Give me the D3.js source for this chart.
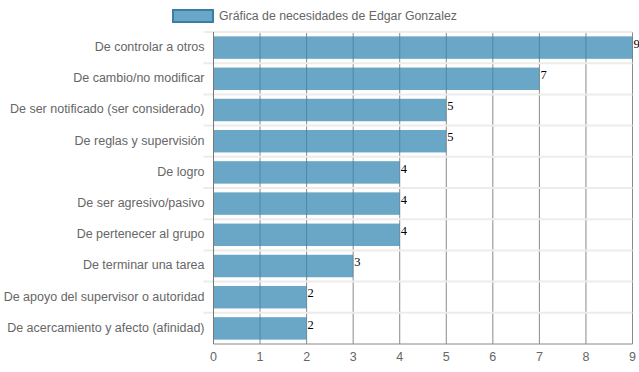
<!DOCTYPE html>
<html>
<head>
<meta charset="utf-8">
<script src="https://cdn.jsdelivr.net/npm/d3@7"></script>
<style>
  body { margin: 0; background: #fff; }
  svg { display: block; font-family: "Liberation Sans", Arial, sans-serif; }
</style>
</head>
<body>
<svg id="chart" width="639" height="372"></svg>
<script>
// data
var categories = [
  "De controlar a otros",
  "De cambio/no modificar",
  "De ser notificado (ser considerado)",
  "De reglas y supervisión",
  "De logro",
  "De ser agresivo/pasivo",
  "De pertenecer al grupo",
  "De terminar una tarea",
  "De apoyo del supervisor o autoridad",
  "De acercamiento y afecto (afinidad)"
];
var values = [9, 7, 5, 5, 4, 4, 4, 3, 2, 2];
var xTicks = [0, 1, 2, 3, 4, 5, 6, 7, 8, 9];
var seriesName = "Gráfica de necesidades de Edgar Gonzalez";

var svgWidth = 639;
var svgHeight = 372;
var margin = {top: 32, right: 6.5, bottom: 28, left: 213.5};
var width = svgWidth - margin.left - margin.right;
var height = svgHeight - margin.top - margin.bottom;

var svg = d3.select("#chart");

var x = d3.scaleLinear().domain([0, 9]).range([0, width]);
var y = d3.scaleBand().domain(categories).range([0, height]).paddingInner(0.28).paddingOuter(0.14);

var g = svg.append("g").attr("transform", "translate(" + margin.left + "," + margin.top + ")");

// vertical grid
g.append("g")
  .selectAll("line")
  .data(xTicks)
  .join("line")
    .attr("x1", d => x(d)).attr("x2", d => x(d))
    .attr("y1", 0).attr("y2", height)
    .attr("stroke", "#8a8a8a")
    .attr("stroke-width", 1);

// horizontal category lines (boundaries), with little ticks on the left
var step = height / categories.length;
g.append("g")
  .selectAll("line")
  .data(d3.range(categories.length))
  .join("line")
    .attr("x1", -10).attr("x2", width)
    .attr("y1", d => d * step).attr("y2", d => d * step)
    .attr("stroke", "#ececec")
    .attr("stroke-width", 2);

// bars
g.append("g")
  .selectAll("rect")
  .data(values)
  .join("rect")
    .attr("x", 0)
    .attr("y", (d, i) => y(categories[i]))
    .attr("width", d => x(d))
    .attr("height", y.bandwidth())
    .attr("fill", "rgba(51,133,176,0.73)");

// value labels
g.append("g")
  .selectAll("text")
  .data(values)
  .join("text")
    .attr("x", d => x(d) + 1)
    .attr("y", (d, i) => y(categories[i]) + 11.5)
    .attr("font-family", "'Liberation Serif', 'DejaVu Serif', serif")
    .attr("font-size", 12.5)
    .attr("fill", "#000")
    .text(d => d);

// y axis line + labels
g.append("line")
  .attr("x1", 0).attr("x2", 0).attr("y1", 0).attr("y2", height)
  .attr("stroke", "#777");

g.append("g")
  .selectAll("text")
  .data(categories)
  .join("text")
    .attr("x", -9)
    .attr("y", d => y(d) + y.bandwidth() / 2 - 1)
    .attr("dy", "0.35em")
    .attr("text-anchor", "end")
    .attr("font-size", 12.5)
    .attr("fill", "#666")
    .text(d => d);

// x axis
g.append("line")
  .attr("x1", 0).attr("x2", width).attr("y1", height).attr("y2", height)
  .attr("stroke", "#888");

g.append("g")
  .selectAll("text")
  .data(xTicks)
  .join("text")
    .attr("x", d => x(d))
    .attr("y", height + 17)
    .attr("text-anchor", "middle")
    .attr("font-size", 12.5)
    .attr("fill", "#666")
    .text(d => d);

// legend
var legend = svg.append("g").attr("transform", "translate(172,9)");
legend.append("rect")
  .attr("x", 1).attr("y", 1)
  .attr("width", 40).attr("height", 12)
  .attr("fill", "rgba(51,133,176,0.73)")
  .attr("stroke", "#3a7ea8")
  .attr("stroke-width", 2);
legend.append("text")
  .attr("x", 47).attr("y", 7)
  .attr("dy", "0.35em")
  .attr("font-size", 12.3)
  .attr("fill", "#666")
  .text(seriesName);
</script>
</body>
</html>
